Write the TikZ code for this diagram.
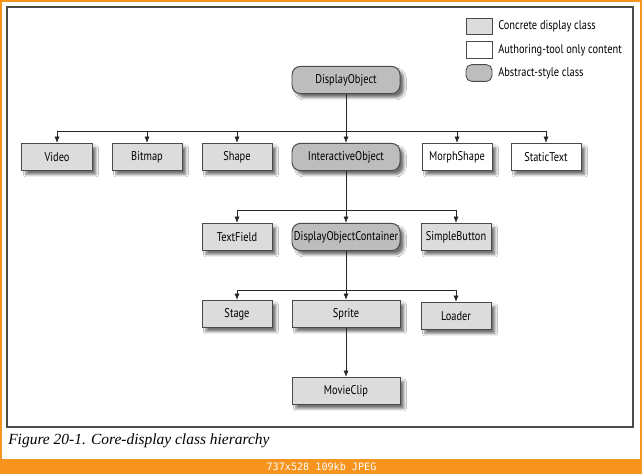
\documentclass[tikz,border=0pt]{standalone}
\usepackage{fontspec}
\usepackage{xcolor}
\usetikzlibrary{arrows.meta,shadows.blur}
\newfontfamily\boxfont{PT Sans}[FakeStretch=0.82]
\newfontfamily\capfont{Liberation Serif}
\newfontfamily\barfont{DejaVu Sans Mono}
\definecolor{barorange}{HTML}{F7941E}
\definecolor{framegray}{HTML}{4A4A4A}
\definecolor{concretefill}{HTML}{DCDCDC}
\definecolor{abstractfill}{HTML}{BDBDBD}

\tikzset{
  cls/.style={draw=framegray, line width=0.7pt, fill=concretefill,
    minimum width=1.75cm, minimum height=0.68cm, inner sep=1pt,
    font=\boxfont\fontsize{9}{10}\selectfont,
    blur shadow={shadow xshift=2.8pt, shadow yshift=-2.8pt, shadow blur steps=6, shadow opacity=55}},
  wide/.style={minimum width=2.7cm},
  abstractcls/.style={cls, wide, fill=abstractfill, rounded corners=6pt},
  toolonly/.style={cls, fill=white},
  key/.style={draw=framegray, line width=0.6pt, minimum width=0.65cm, minimum height=0.42cm, inner sep=0pt},
  keytext/.style={anchor=west, inner sep=0pt, font=\boxfont\fontsize{9}{10}\selectfont},
  arr/.style={-{Latex[length=4.5pt,width=3.6pt]}, line width=0.5pt, draw=black!85}
}

\begin{document}
\begin{tikzpicture}[x=0.025cm,y=-0.025cm]
\useasboundingbox (0,0) rectangle (642,474);
\fill[barorange] (0,0) rectangle (642,474);
\fill[white] (2,2) rectangle (640,459);
\draw[framegray, line width=0.9pt] (7,7) rectangle (633,427);

% legend
\node[key, fill=concretefill] (kconc) at (479,26.5) {};
\node[key, fill=white] (ktool) at (479,50) {};
\node[key, fill=abstractfill, rounded corners=4pt] (kabs) at (479,73) {};
\node[keytext] at (498,26.5) {Concrete display class};
\node[keytext] at (498,50) {Authoring-tool only content};
\node[keytext] at (498,73) {Abstract-style class};

% classes
\node[abstractcls] (dobj) at (346,80) {DisplayObject};

\node[cls] (video) at (57,157) {Video};
\node[cls] (bitmap) at (147,157) {Bitmap};
\node[cls] (shape) at (237,157) {Shape};
\node[abstractcls] (inter) at (346,157) {InteractiveObject};
\node[toolonly] (morph) at (457,157) {MorphShape};
\node[toolonly] (stext) at (546,157) {StaticText};

\node[cls] (tfield) at (237,237) {TextField};
\node[abstractcls] (dcont) at (346,237) {DisplayObjectContainer};
\node[cls] (sbutton) at (456,237) {SimpleButton};

\node[cls] (stage) at (237,314) {Stage};
\node[cls, wide] (sprite) at (346,314) {Sprite};
\node[cls] (loader) at (456,316) {Loader};

\node[cls, wide] (mclip) at (346,391) {MovieClip};

% branch points
\coordinate (b1) at (346,131);
\coordinate (b2) at (346,210);
\coordinate (b3) at (346,290);

\draw[arr] (dobj.south) -- (inter.north);
\draw[arr] (b1) -| (video.north);
\draw[arr] (b1) -| (bitmap.north);
\draw[arr] (b1) -| (shape.north);
\draw[arr] (b1) -| (morph.north);
\draw[arr] (b1) -| (stext.north);

\draw[arr] (inter.south) -- (dcont.north);
\draw[arr] (b2) -| (tfield.north);
\draw[arr] (b2) -| (sbutton.north);

\draw[arr] (dcont.south) -- (sprite.north);
\draw[arr] (b3) -| (stage.north);
\draw[arr] (b3) -| (loader.north);

\draw[arr] (sprite.south) -- (mclip.north);

% caption and viewer bar
\node[anchor=west, inner sep=0pt, font=\capfont\itshape\fontsize{11}{13}\selectfont] (cap) at (8,441) {Figure 20-1. Core-display class hierarchy};
\node[inner sep=0pt, text=white, font=\barfont\fontsize{7.2}{9}\selectfont] (bar) at (321.5,467) {737x528 109kb JPEG};
\end{tikzpicture}
\end{document}
